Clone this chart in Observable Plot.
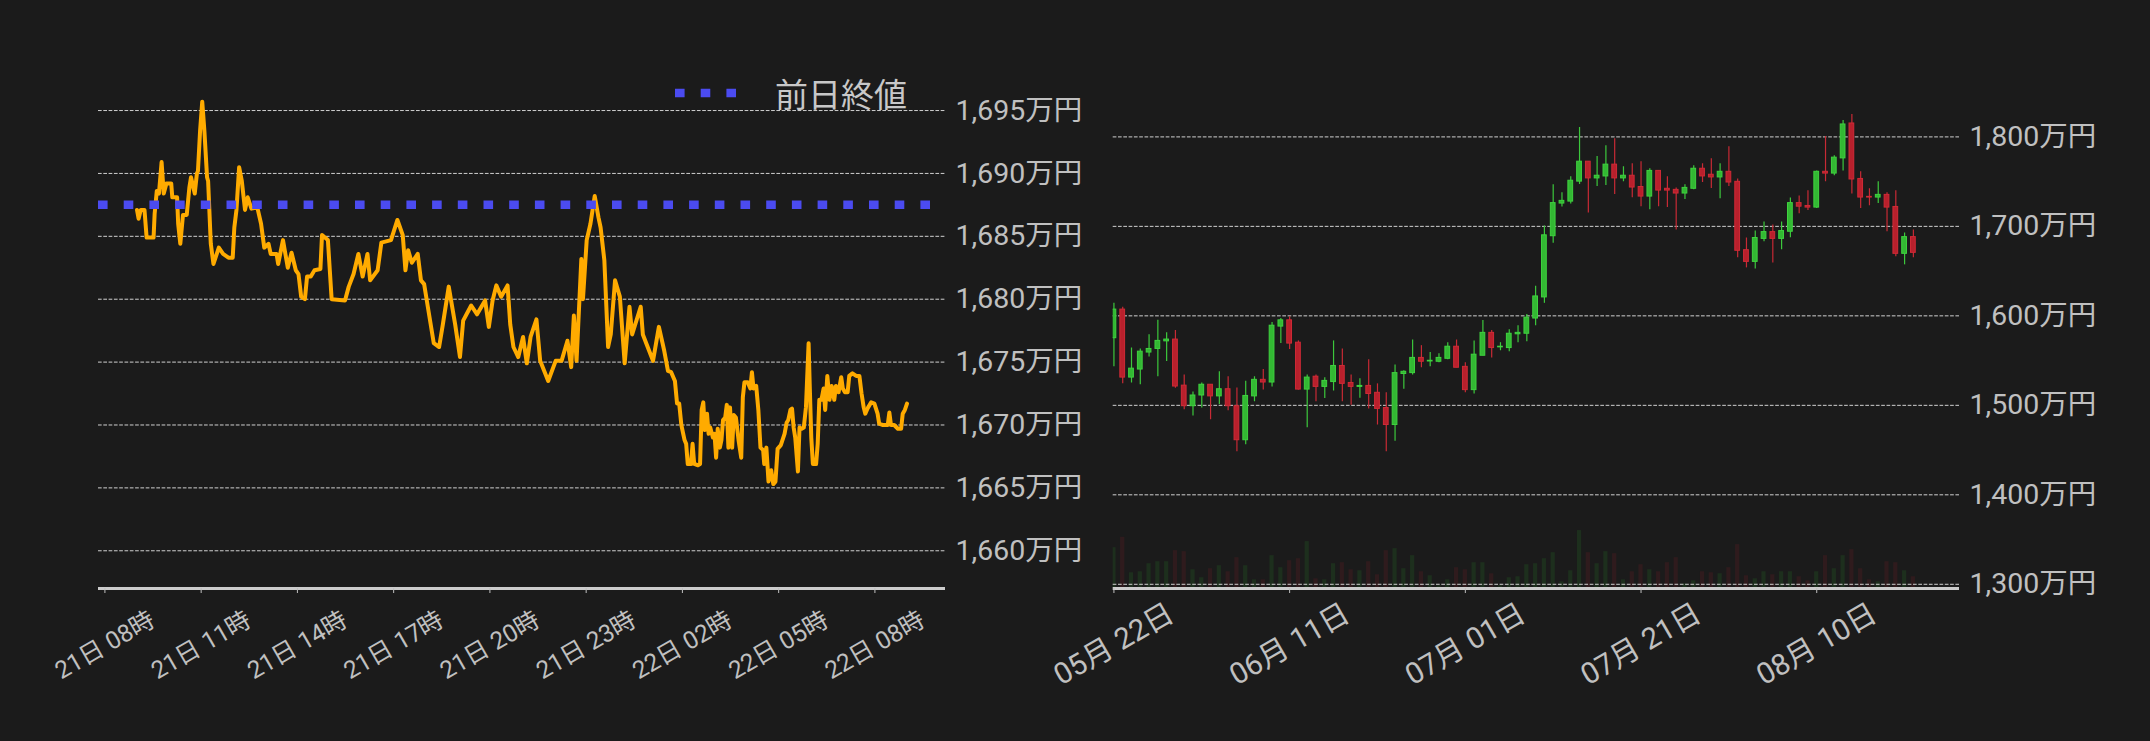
<!DOCTYPE html>
<html><head><meta charset="utf-8">
<script src="https://cdn.jsdelivr.net/npm/d3@7"></script>
<script src="https://cdn.jsdelivr.net/npm/@observablehq/plot@0.6"></script>
<style>
html,body{margin:0;padding:0;background:#1b1b1b;}
#root{position:relative;width:2150px;height:741px;overflow:hidden;background:#1b1b1b;font-family:Roboto,"Noto Sans CJK JP",sans-serif;}
#left{position:absolute;left:0;top:0;width:1100px;height:741px;}
#right{position:absolute;left:1000px;top:0;width:1150px;height:741px;}
#legend{position:absolute;left:675px;top:72px;height:42px;display:flex;align-items:center;color:#c8c8c8;font-size:33px;}
#legend span{margin-left:38px;}
svg{overflow:visible}
</style></head>
<body><div id="root"><div id="left"></div><div id="right"></div>
<div id="legend"><svg width="62" height="10"><line x1="0" x2="62" y1="5" y2="5" stroke="#4b4bf0" stroke-width="8.5" stroke-dasharray="9.6,16.1"/></svg><span>前日終値</span></div>
</div>
<script>
// ---------- Left chart: intraday price ----------
const prevClose = 1687.5;
const leftYTicks = [1660, 1665, 1670, 1675, 1680, 1685, 1690, 1695];
const leftXTicks = ["21 08:00","21 11:00","21 14:00","21 17:00","21 20:00","21 23:00","22 02:00","22 05:00","22 08:00"];
const lineTimes = [
"21 09:00","21 09:03","21 09:07","21 09:14","21 09:18","21 09:31","21 09:33","21 09:37","21 09:41","21 09:46",
"21 09:50","21 09:55","21 10:04","21 10:06","21 10:15","21 10:17","21 10:21","21 10:26","21 10:33","21 10:38",
"21 10:41","21 10:48","21 10:52","21 10:54","21 10:58","21 11:02","21 11:06","21 11:11","21 11:13","21 11:18",
"21 11:23","21 11:33","21 11:41","21 11:51","21 11:59","21 12:02","21 12:06","21 12:11","21 12:16","21 12:22",
"21 12:27","21 12:34","21 12:45","21 12:52","21 12:58","21 13:06","21 13:10","21 13:21","21 13:24","21 13:33",
"21 13:42","21 13:49","21 13:57","21 14:02","21 14:07","21 14:14","21 14:18","21 14:25","21 14:32","21 14:43",
"21 14:46","21 14:57","21 15:04","21 15:29","21 15:36","21 15:45","21 15:54","21 16:02","21 16:11","21 16:16",
"21 16:30","21 16:37","21 16:55","21 17:07","21 17:17","21 17:22","21 17:27","21 17:34","21 17:45","21 17:51",
"21 17:57","21 18:05","21 18:15","21 18:25","21 18:32","21 18:43","21 18:55","21 19:04","21 19:10","21 19:20",
"21 19:25","21 19:36","21 19:51","21 19:58","21 20:05","21 20:12","21 20:21","21 20:33","21 20:38","21 20:44",
"21 20:53","21 21:02","21 21:09","21 21:16","21 21:27","21 21:34","21 21:49","21 22:03","21 22:14","21 22:25",
"21 22:32","21 22:37","21 22:42","21 22:51","21 22:54","21 23:01","21 23:08","21 23:16","21 23:23","21 23:27",
"21 23:34","21 23:41","21 23:46","21 23:54","22 00:03","22 00:12","22 00:21","22 00:26","22 00:42","22 00:46",
"22 01:05","22 01:16","22 01:26","22 01:33","22 01:39","22 01:46","22 01:50","22 01:54","22 01:58","22 02:04",
"22 02:07","22 02:10","22 02:16","22 02:19","22 02:22","22 02:29","22 02:33","22 02:36","22 02:39","22 02:42",
"22 02:46","22 02:49","22 02:52","22 02:57","22 03:00","22 03:03","22 03:06","22 03:10","22 03:13","22 03:16",
"22 03:20","22 03:23","22 03:26","22 03:29","22 03:33","22 03:36","22 03:40","22 03:45","22 03:50","22 03:53",
"22 03:56","22 04:02","22 04:07","22 04:10","22 04:13","22 04:18","22 04:22","22 04:26","22 04:31","22 04:33",
"22 04:37","22 04:41","22 04:46","22 04:50","22 04:54","22 04:58","22 05:04","22 05:11","22 05:15","22 05:18",
"22 05:22","22 05:25","22 05:28","22 05:31","22 05:36","22 05:39","22 05:43","22 05:47","22 05:51","22 05:56",
"22 05:58","22 06:01","22 06:04","22 06:10","22 06:13","22 06:16","22 06:20","22 06:24","22 06:27","22 06:31",
"22 06:35","22 06:39","22 06:44","22 06:47","22 06:52","22 06:57","22 07:00","22 07:04","22 07:09","22 07:12",
"22 07:18","22 07:25","22 07:31","22 07:35","22 07:39","22 07:42","22 07:46","22 07:53","22 07:59","22 08:05",
"22 08:08","22 08:14","22 08:24","22 08:27","22 08:30","22 08:36","22 08:43","22 08:49","22 08:52","22 08:56",
"22 09:00"];
const lineValues = [
1687.1,1686.4,1687.1,1687.1,1684.9,1684.9,1686.8,1688.6,1688.4,1690.9,
1688.4,1689.2,1689.2,1688.1,1688.1,1686.0,1684.4,1686.7,1686.7,1688.9,
1689.7,1688.4,1690.0,1690.2,1693.4,1695.7,1693.4,1689.7,1689.4,1684.4,
1682.8,1684.1,1683.6,1683.3,1683.3,1685.7,1687.1,1690.5,1689.4,1687.1,
1688.1,1687.2,1687.3,1686.0,1684.1,1684.4,1683.6,1683.6,1682.8,1684.7,
1682.5,1683.7,1682.3,1682.0,1680.2,1680.0,1681.8,1681.8,1682.3,1682.4,
1685.1,1684.7,1680.0,1679.9,1681.0,1682.0,1683.6,1681.8,1683.6,1681.5,
1682.3,1684.5,1684.7,1686.3,1685.1,1682.3,1683.9,1682.9,1683.6,1681.5,
1681.2,1679.1,1676.5,1676.2,1678.0,1681.0,1678.0,1675.4,1678.3,1679.1,
1679.5,1678.8,1679.9,1677.8,1679.9,1681.1,1680.2,1681.1,1678.0,1676.2,
1675.4,1677.0,1674.9,1677.0,1678.4,1675.1,1673.5,1675.1,1675.1,1676.7,
1674.6,1678.7,1675.1,1683.2,1680.0,1684.7,1686.0,1688.2,1686.5,1685.7,
1683.1,1676.2,1677.2,1681.5,1680.2,1674.9,1679.4,1677.2,1679.4,1677.2,
1675.1,1677.8,1675.9,1674.3,1674.2,1673.5,1671.7,1671.7,1670.0,1668.8,
1668.5,1666.9,1666.9,1668.5,1666.9,1666.8,1666.9,1671.2,1671.8,1669.6,
1670.9,1669.3,1669.8,1669.0,1669.3,1667.4,1669.7,1668.2,1668.8,1670.4,
1670.6,1671.6,1668.2,1671.4,1668.2,1670.8,1670.6,1668.8,1667.4,1672.2,
1673.4,1673.4,1672.9,1674.2,1672.9,1673.1,1671.2,1668.2,1668.0,1666.9,
1668.2,1665.5,1666.4,1665.3,1665.5,1668.1,1668.4,1669.3,1670.2,1670.4,
1671.2,1671.3,1669.8,1669.0,1666.3,1669.8,1669.7,1669.8,1671.4,1676.5,
1673.3,1669.0,1666.9,1666.9,1668.5,1672.0,1672.0,1672.9,1671.2,1673.9,
1672.0,1673.1,1672.0,1673.1,1672.6,1673.8,1672.9,1672.6,1672.6,1673.9,
1674.1,1673.9,1673.9,1672.5,1671.4,1670.9,1671.3,1671.8,1671.7,1670.9,
1670.1,1670.0,1670.0,1671.0,1670.0,1670.0,1669.7,1669.7,1670.9,1671.2,
1671.7];

// ---------- Right chart: daily candles ----------
const candleStart = "2025-05-22";
const opens  = [1575,1607,1531,1540,1559,1563,1571.5,1573.5,1522,1499,1511,1523,1510,1518,1499,1461,1510,1528.5,1525.5,1588,
1595,1570,1517.6,1532,1520.6,1526,1544,1525,1520.6,1521.7,1514,1497,1478,1535,1536,1553,1549,1548.7,1552,1565.5,
1543,1517,1555.4,1581,1564.8,1564,1579.4,1580,1597,1620.6,1689,1725.5,1727.7,1750,1772.3,1753.6,1755.8,1769,1753.6,1756.6,
1744,1733.3,1762,1742,1740.8,1736.7,1742,1764.4,1757.7,1754.7,1761,1749.8,1673.4,1660.3,1686,1693.6,1686,1694,1726,1722.8,
1721,1761,1759,1776,1815,1753,1733,1732.2,1735.2,1721.7,1669.3,1688];
const highs  = [1614,1609.6,1564,1563,1579,1595,1581,1583.5,1534,1515,1525,1523,1537.5,1532,1519.5,1527,1532,1540,1592.5,1597,
1599,1572,1534,1534,1530.7,1572,1563,1534,1529.6,1551,1524,1514,1545,1538.6,1573,1566.7,1559,1557.7,1570,1573,
1547.6,1572,1594.8,1583.5,1570,1584.6,1589,1601.5,1633,1700.4,1746.4,1737.5,1755.4,1810.5,1772.3,1778,1790,1798,1766.7,1770,
1772.3,1764.4,1762,1755.4,1743,1746.4,1767.8,1770,1775.7,1770,1789,1753,1687,1694.8,1704.9,1701.5,1705,1731.8,1734,1739.7,
1762,1800.4,1779,1818.4,1825,1761,1742,1749.8,1737.5,1739.7,1692.5,1696];
const lows   = [1543,1524,1525,1523,1554,1532,1549,1519,1495,1488,1497,1484,1501,1494,1448,1456,1504,1517,1520.6,1569,
1562.5,1517,1475,1504,1507.5,1516,1504,1500,1508,1496,1478,1448,1460,1518,1534,1542,1543,1547.6,1551,1542,
1514,1512.7,1555.4,1553,1561,1560,1570,1571,1589,1614,1681,1721.7,1725,1746.8,1715,1744.6,1745.7,1735.6,1750,1732,
1722,1718.7,1722,1721,1696,1730,1740.8,1749,1742.3,1731,1744.6,1664.8,1653.6,1652.4,1682.8,1659,1673.8,1687.3,1714,1717.6,
1720,1749.8,1756.6,1762,1736.3,1720,1723,1725.5,1694,1666,1657,1664.8];
const closes = [1607,1531,1541,1560,1563,1572,1573.5,1521,1499,1511,1523,1510,1518,1499,1461,1510.5,1528.5,1525.5,1589,1595,
1569,1517.6,1531,1520.6,1527.3,1544,1524,1520.6,1521.7,1512.7,1496,1478,1536,1537.5,1553,1548.7,1549.8,1553,1565.5,1542,
1517,1556.6,1581,1564,1565.5,1580,1581,1598,1621.7,1690,1726,1728.5,1751,1772.3,1753.6,1756.6,1769,1753.6,1756.6,1743.4,
1733.3,1762,1740,1740,1736.7,1743,1764.4,1755.8,1754.7,1761,1749,1672.7,1660.3,1687,1693.6,1686,1694.8,1726,1722,1721,
1761,1759,1776.8,1813.9,1752.4,1732.2,1732.2,1735.2,1721,1669.3,1688,1670.4];
const volumes = [122,153,47,50,74,80,80,113,110,56,32,59,68,50,92,68,26,26,98,62,
83,89,140,29,26,74,77,56,53,80,41,113,119,59,98,50,38,8,26,62,
56,77,77,44,8,32,35,71,74,89,107,20,53,173,107,74,110,104,26,50,
71,56,50,77,92,14,23,50,47,44,62,131,38,29,50,41,50,50,35,23,
50,98,59,98,116,59,26,20,80,77,53,35];
const rightYTicks = [1300, 1400, 1500, 1600, 1700, 1800];
const rightXTicks = ["2025-05-22","2025-06-11","2025-07-01","2025-07-21","2025-08-10"];

// ---------- build ----------
const font = 'Roboto, "Noto Sans CJK JP", sans-serif';
const parseT = d3.utcParse("%d %H:%M");
const lineData = lineTimes.map((t, i) => ({t: parseT(t), v: lineValues[i]}));
const gridStyle = {stroke: "#d0d0d0", strokeWidth: 1, strokeDasharray: "3.7,1.6"};

const left = Plot.plot({
  width: 1100, height: 741,
  marginLeft: 98, marginRight: 155, marginTop: 72.3, marginBottom: 153,
  style: {background: "transparent", color: "#c0c0c0", fontFamily: font, overflow: "visible"},
  x: {type: "utc", domain: [parseT("21 07:48"), parseT("22 10:12")], label: null},
  y: {domain: [1657, 1698], label: null},
  marks: [
    Plot.ruleY(leftYTicks, gridStyle),
    Plot.line(lineData, {x: "t", y: "v", stroke: "#ffab00", strokeWidth: 4, strokeLinejoin: "round"}),
    Plot.ruleY([prevClose], {stroke: "#4b4bf0", strokeWidth: 8.5, strokeDasharray: "9.6,16.1"}),
    Plot.ruleY([1657], {stroke: "#cccccc", strokeWidth: 3}),
    Plot.axisX(leftXTicks.map(parseT), {tickFormat: d3.utcFormat("%d日 %H時"), tickRotate: -30, label: null,
      textAnchor: "middle", lineAnchor: "middle", tickSize: 5, tickPadding: 52, fontSize: 24.5}),
    Plot.axisY(leftYTicks, {anchor: "right", tickSize: 0, tickPadding: 10, label: null,
      tickFormat: v => d3.format(",")(v) + "万円", fontSize: 28.5})
  ]
});
document.getElementById("left").appendChild(left);

const parseD = d3.utcParse("%Y-%m-%d");
const start = parseD(candleStart);
const candles = opens.map((o, i) => ({
  date: d3.utcDay.offset(start, i), open: o, high: highs[i], low: lows[i], close: closes[i], vol: volumes[i],
  up: closes[i] >= o
}));
const yBottom = 1295.3;
const volScale = 0.374;
const GREEN = "#35c235", RED = "#c8232f";

const right = Plot.plot({
  width: 1150, height: 741,
  marginLeft: 112.7, marginRight: 191, marginTop: 100.6, marginBottom: 153,
  style: {background: "transparent", color: "#c0c0c0", fontFamily: font, overflow: "visible"},
  x: {type: "utc", domain: [d3.utcHour.offset(start, -1.6), d3.utcHour.offset(start, 96 * 24 + 6.5)], label: null},
  y: {domain: [yBottom, 1840], label: null},
  marks: [
    Plot.rect(candles, {
      x1: d => d3.utcMinute.offset(d.date, -342), x2: d => d3.utcMinute.offset(d.date, 342),
      y1: yBottom, y2: d => yBottom + d.vol * volScale,
      fill: d => d.up ? GREEN : RED, fillOpacity: 0.12, clip: true
    }),
    Plot.ruleY(rightYTicks, gridStyle),
    Plot.ruleX(candles, {x: "date", y1: "low", y2: "high", stroke: d => d.up ? "#3cc83c" : "#c82a35", strokeWidth: 1.2, clip: true}),
    Plot.rect(candles, {
      x1: d => d3.utcMinute.offset(d.date, -390), x2: d => d3.utcMinute.offset(d.date, 390),
      y1: "open", y2: "close",
      fill: d => d.up ? "#33b833" : "#b8202c", stroke: d => d.up ? "#3fd23f" : "#d02a36", strokeWidth: 1, clip: true
    }),
    Plot.ruleY([yBottom], {stroke: "#cccccc", strokeWidth: 3}),
    Plot.axisX(rightXTicks.map(parseD), {tickFormat: d3.utcFormat("%m月 %d日"), tickRotate: -30, label: null,
      textAnchor: "middle", lineAnchor: "middle", tickSize: 5, tickPadding: 51, fontSize: 29.5}),
    Plot.axisY(rightYTicks, {anchor: "right", tickSize: 0, tickPadding: 10, label: null,
      tickFormat: v => d3.format(",")(v) + "万円", fontSize: 28.5})
  ]
});
document.getElementById("right").appendChild(right);
</script>
</body></html>
